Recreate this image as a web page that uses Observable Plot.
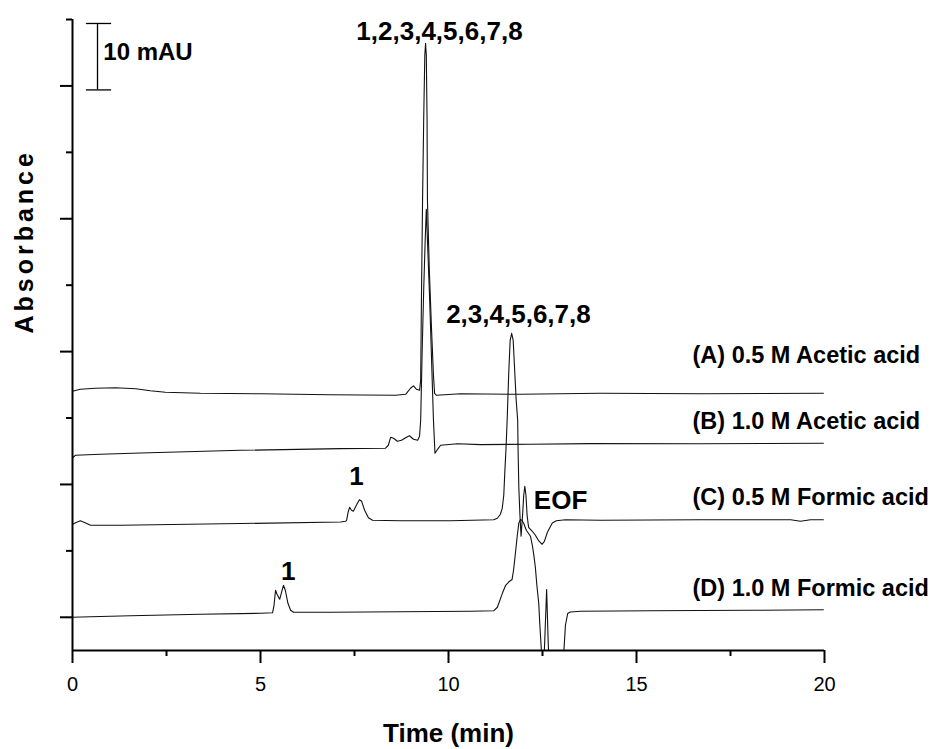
<!DOCTYPE html>
<html>
<head>
<meta charset="utf-8">
<script src="https://cdn.jsdelivr.net/npm/d3@7"></script>
<script src="https://cdn.jsdelivr.net/npm/@observablehq/plot@0.6"></script>
<style>
  html, body { margin: 0; padding: 0; background: #fff; }
  #chart svg { display: block; }
</style>
</head>
<body>
<div id="chart"></div>
<script>
// ---- Data (time in min, absorbance in mAU, offset traces) ----
const tA = [0.00,0.21,0.61,1.14,1.68,2.07,2.47,3.40,5.00,6.86,8.59,8.86,8.99,9.07,9.15,9.23,9.26,9.28,9.31,9.34,9.37,9.39,9.41,9.43,9.44,9.49,9.55,9.60,9.63,9.68,10.32,11.91,14.04,16.70,19.97];
const vA = [34.03,34.33,34.48,34.55,34.40,34.10,33.88,33.72,33.65,33.50,33.42,33.57,34.48,34.85,34.33,34.18,35.68,47.73,62.78,74.83,84.61,86.42,84.61,74.83,62.78,52.24,43.21,36.43,33.72,33.42,33.65,33.57,33.72,33.65,33.72];

const tB = [0.00,0.08,0.74,1.81,4.47,7.13,8.32,8.40,8.46,8.54,8.64,8.75,8.88,8.96,9.07,9.18,9.23,9.26,9.30,9.34,9.38,9.41,9.44,9.50,9.55,9.60,9.64,9.71,9.79,10.24,10.85,12.18,13.78,16.70,19.97];
const vB = [24.01,24.39,24.54,24.74,25.14,25.40,25.44,25.90,27.10,26.95,26.50,26.65,27.10,27.33,26.80,26.65,27.25,29.66,40.20,49.23,56.76,61.43,56.76,47.73,38.69,29.66,24.69,25.29,25.90,26.12,26.00,26.05,26.15,26.12,26.20];

const tC = [0.00,0.11,0.21,0.35,0.48,1.28,4.47,7.13,7.26,7.29,7.33,7.37,7.42,7.47,7.55,7.63,7.69,7.77,7.87,7.98,8.72,10.05,11.20,11.30,11.38,11.43,11.47,11.50,11.53,11.56,11.60,11.64,11.68,11.72,11.76,11.80,11.84,11.85,11.87,11.90,11.93,11.97,12.00,12.03,12.06,12.09,12.13,12.23,12.31,12.39,12.49,12.55,12.63,12.76,12.87,13.11,14.04,16.70,19.10,19.36,19.63,19.97];
const vC = [13.99,14.30,14.53,14.20,13.85,13.85,14.11,14.35,14.45,14.60,15.81,16.56,16.11,15.96,16.86,17.69,17.46,16.11,14.98,14.60,14.53,14.53,14.68,14.91,15.51,16.41,18.37,22.13,25.44,29.66,36.43,41.70,42.76,41.70,37.19,32.67,29.66,25.44,19.57,15.36,12.20,15.36,18.37,19.72,18.37,15.36,13.55,12.95,12.35,11.59,10.99,11.44,12.80,14.20,14.53,14.68,14.60,14.68,14.68,14.45,14.68,14.68];

const tD = [0.00,0.48,1.54,3.40,5.00,5.32,5.36,5.40,5.44,5.51,5.56,5.61,5.66,5.73,5.80,5.88,6.86,8.72,10.59,11.20,11.30,11.43,11.52,11.60,11.69,11.73,11.78,11.83,11.87,11.91,11.95,12.00,12.07,12.18,12.23,12.27,12.31,12.35,12.40,12.43,12.47,12.51,12.55,12.61,12.65,12.69,12.77,12.98,13.07,13.11,13.17,13.24,13.51,15.37,18.03,19.97];
const vD = [0.00,0.08,0.23,0.45,0.60,0.68,1.81,4.07,3.46,2.71,3.76,4.82,4.07,2.11,1.05,0.75,0.75,0.83,0.90,0.98,1.51,3.57,4.82,5.31,5.68,7.08,9.64,12.35,14.15,14.71,14.60,14.15,13.10,12.20,10.84,9.33,7.53,4.82,2.11,-1.20,-4.97,-9.49,-4.97,4.17,-3.46,-9.49,-11.74,-11.74,-4.97,-1.20,0.56,0.80,0.90,0.98,1.05,1.13];

const seriesNames = ["(A) 0.5 M Acetic acid", "(B) 1.0 M Acetic acid", "(C) 0.5 M Formic acid", "(D) 1.0 M Formic acid"];
const seriesLabelT = [16.49, 16.49, 16.49, 16.49];
const seriesLabelV = [39.4, 29.5, 18.1, 4.4];

const peakTexts = ["1,2,3,4,5,6,7,8", "2,3,4,5,6,7,8", "1", "1", "EOF"];
const peakT = [9.76, 11.86, 7.55, 5.74, 12.98];
const peakV = [88.2, 45.6, 21.2, 6.9, 17.5];

const xMajorTicks = [0, 5, 10, 15, 20];
const xMinorTicks = [2.5, 7.5, 12.5, 17.5];
const yMajorTicks = [0, 20, 40, 60, 80];
const yMinorTicks = [10, 30, 50, 70, 90];

// scale bar: 10 mAU
const scaleBarT = 0.665;
const scaleBarV = [79.4, 89.4];
const scaleBarCapT = [0.37, 1.04];
const scaleBarLabel = "10 mAU";

// ---- Build tables ----
const traces = [[tA, vA], [tB, vB], [tC, vC], [tD, vD]];
const rows = traces.flatMap(([ts, vs], i) => ts.map((t, j) => ({series: seriesNames[i], t, v: vs[j]})));
const seriesLabels = seriesNames.map((s, i) => ({text: s, t: seriesLabelT[i], v: seriesLabelV[i]}));
const peakLabels = peakTexts.map((s, i) => ({text: s, t: peakT[i], v: peakV[i]}));
const caps = scaleBarV.map(v => ({v, t1: scaleBarCapT[0], t2: scaleBarCapT[1]}));

const FONT = "Liberation Sans, Arial, Helvetica, sans-serif";

const chart = Plot.plot({
  width: 938,
  height: 749,
  marginLeft: 72,
  marginRight: 114,
  marginTop: 19,
  marginBottom: 99,
  style: {fontFamily: FONT, background: "#fff", color: "#000"},
  x: {domain: [0, 20]},
  y: {domain: [-5, 90]},
  marks: [
    Plot.line(rows, {x: "t", y: "v", z: "series", stroke: "#111", strokeWidth: 1.1, clip: true}),
    // axes
    Plot.axisX({ticks: xMajorTicks, tickSize: 13, tickPadding: 13, strokeWidth: 2, fontSize: 20, label: null, tickFormat: d => String(d)}),
    Plot.axisX({ticks: xMinorTicks, tickSize: 6, strokeWidth: 2, label: null, tickFormat: () => ""}),
    Plot.axisY({ticks: yMajorTicks, tickSize: 12, strokeWidth: 2, label: null, tickFormat: () => ""}),
    Plot.axisY({ticks: yMinorTicks, tickSize: 6, strokeWidth: 2, label: null, tickFormat: () => ""}),
    Plot.ruleY([-5], {strokeWidth: 2}),
    Plot.ruleX([0], {strokeWidth: 2}),
    // scale bar
    Plot.ruleX([{t: scaleBarT}], {x: "t", y1: scaleBarV[0], y2: scaleBarV[1], strokeWidth: 1.3}),
    Plot.ruleY(caps, {y: "v", x1: "t1", x2: "t2", strokeWidth: 1.3}),
    Plot.text([{text: scaleBarLabel, t: 0.82, v: 85.1}], {x: "t", y: "v", text: "text", textAnchor: "start", lineAnchor: "middle", fontSize: 24, fontWeight: "bold", fill: "#000"}),
    // peak labels
    Plot.text(peakLabels, {x: "t", y: "v", text: "text", textAnchor: "middle", lineAnchor: "middle", fontSize: 26, fontWeight: "bold", fill: "#000"}),
    // series labels
    Plot.text(seriesLabels, {x: "t", y: "v", text: "text", textAnchor: "start", lineAnchor: "middle", fontSize: 23.5, fontWeight: "bold", fill: "#000"}),
    // axis titles
    Plot.text([{text: "Time (min)", t: 10}], {x: "t", text: "text", frameAnchor: "bottom", dy: 83, textAnchor: "middle", lineAnchor: "middle", fontSize: 26, fontWeight: "bold", fill: "#000"}),
    Plot.text([{text: "Absorbance", v: 56.6}], {y: "v", text: "text", frameAnchor: "left", dx: -48, rotate: -90, textAnchor: "middle", lineAnchor: "middle", fontSize: 25, fontWeight: "bold", fill: "#000"})
  ]
});

d3.select(chart).selectAll("text").filter(function() { return this.textContent === "Absorbance"; }).attr("letter-spacing", "4px");
document.getElementById("chart").appendChild(chart);
</script>
</body>
</html>
